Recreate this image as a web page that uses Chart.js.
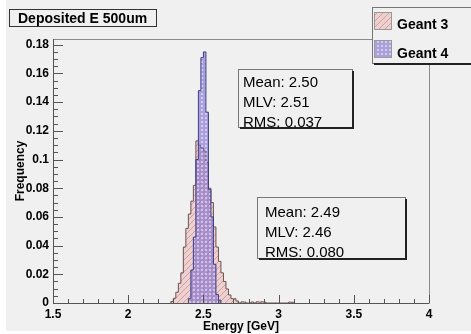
<!DOCTYPE html>
<html>
<head>
<meta charset="utf-8">
<script src="https://cdn.jsdelivr.net/npm/chart.js@4.4.0/dist/chart.umd.min.js"></script>
<style>
  html, body { margin: 0; padding: 0; background: #fff; }
</style>
</head>
<body>
<canvas id="myChart" width="471" height="334"></canvas>
<script>
// 150 bins between 1.5 and 4 GeV, only the filled range of each sample is listed
const eMin = 1.5, eMax = 4, nBins = 150;

// Geant 3 frequencies, starting at bin 47
const geant3First = 47;
const geant3 = [
  0.001, 0.0033, 0.0075, 0.0137, 0.021, 0.039, 0.052, 0.062, 0.071, 0.082,
  0.113, 0.110, 0.108, 0.106, 0.098, 0.080, 0.070, 0.053, 0.039, 0.029,
  0.021, 0.015, 0.0098, 0.0056, 0.003, 0.003, 0.0014, 0, 0.0008, 0.0006,
  0, 0, 0.0007, 0, 0.0008, 0.0006, 0.0008, 0.0005, 0, 0,
  0, 0, 0, 0, 0, 0, 0, 0.0006, 0.0005
];

// Geant 4 frequencies, starting at bin 54
const geant4First = 54;
const geant4 = [
  0.003, 0.023, 0.046, 0.100, 0.148, 0.171, 0.175, 0.133, 0.079, 0.060,
  0.027, 0.006, 0.002
];

const xTicks = [1.5, 2, 2.5, 3, 3.5, 4];
const yTicks = [0, 0.02, 0.04, 0.06, 0.08, 0.1, 0.12, 0.14, 0.16, 0.18];

const stats3 = ['Mean: 2.49', 'MLV: 2.46', 'RMS: 0.080'];
const stats4 = ['Mean: 2.50', 'MLV: 2.51', 'RMS: 0.037'];

const FONT = '"Liberation Sans", Arial, sans-serif';
const BG = '#f0f0f0';

const binWidth = (eMax - eMin) / nBins;

// histogram outline as stepped points: each bin holds its value until the next edge
function toSteps(values, first) {
  const pts = [{ x: eMin + first * binWidth, y: 0 }];
  values.forEach((v, i) => pts.push({ x: eMin + (first + i) * binWidth, y: v }));
  pts.push({ x: eMin + (first + values.length) * binWidth, y: 0 });
  return pts;
}

function makeTile(w, h, draw) {
  const c = document.createElement('canvas');
  c.width = w; c.height = h;
  draw(c.getContext('2d'));
  return document.createElement('canvas').getContext('2d').createPattern(c, 'repeat');
}

const pinkFill = makeTile(6, 6, g => {
  g.fillStyle = 'rgb(237,208,208)';
  g.fillRect(0, 0, 6, 6);
  g.strokeStyle = 'rgb(210,158,158)';
  g.lineWidth = 1;
  g.beginPath();
  g.moveTo(-1, 7); g.lineTo(7, -1);
  g.moveTo(-4, 4); g.lineTo(4, -4);
  g.moveTo(2, 10); g.lineTo(10, 2);
  g.stroke();
});

const blueFill = makeTile(4, 4, g => {
  g.fillStyle = 'rgba(118,98,205,0.56)';
  g.fillRect(0, 0, 4, 4);
  g.fillStyle = 'rgba(240,240,252,0.55)';
  g.fillRect(1, 1, 2, 2);
});

const rootFrame = {
  id: 'rootFrame',
  beforeDraw(chart) {
    const c = chart.ctx;
    c.save();
    c.fillStyle = '#fff';
    c.fillRect(0, 0, chart.width, chart.height);
    c.fillStyle = BG;
    c.fillRect(6, 0, chart.width - 6, 331);
    c.restore();
  },
  afterDatasetsDraw(chart) {
    const c = chart.ctx;
    const { left, right, top, bottom } = chart.chartArea;
    const xs = chart.scales.x, ys = chart.scales.y;
    c.save();
    c.lineWidth = 1;
    // frame
    c.strokeStyle = '#8a8a8a';
    c.beginPath();
    c.moveTo(left, top + 0.5); c.lineTo(right + 0.5, top + 0.5);
    c.moveTo(right + 0.5, top); c.lineTo(right + 0.5, bottom);
    c.stroke();
    c.strokeStyle = '#555';
    c.beginPath();
    c.moveTo(left + 0.5, top); c.lineTo(left + 0.5, bottom + 0.5);
    c.lineTo(right + 0.5, bottom + 0.5);
    // x ticks, minor every 0.1
    for (let i = 0; i <= 25; i++) {
      const px = Math.round(xs.getPixelForValue(eMin + i * 0.1)) + 0.5;
      const len = i % 5 === 0 ? 8 : 4;
      c.moveTo(px, bottom); c.lineTo(px, bottom - len);
    }
    // y ticks, minor every 0.005
    for (let i = 0; i <= 36; i++) {
      const py = Math.round(ys.getPixelForValue(i * 0.005)) + 0.5;
      const len = i % 4 === 0 ? 10 : 5;
      c.moveTo(left, py); c.lineTo(left + len, py);
    }
    c.stroke();
    c.restore();
  },
  afterDraw(chart) {
    const c = chart.ctx;
    const { left, right, top, bottom } = chart.chartArea;
    c.save();

    const box = (x, y, w, h, shadow) => {
      c.fillStyle = BG;
      c.fillRect(x, y, w, h);
      c.strokeStyle = '#777';
      c.lineWidth = 1;
      c.strokeRect(x + 0.5, y + 0.5, w, h);
      if (shadow) {
        c.fillStyle = '#222';
        c.fillRect(x + 2, y + h, w, 2);
        c.fillRect(x + w, y + 2, 2, h);
      }
    };

    // title
    box(9, 9, 147, 17, false);
    c.strokeStyle = '#333';
    c.strokeRect(9.5, 9.5, 147, 17);
    c.fillStyle = '#000';
    c.font = 'bold 14px ' + FONT;
    c.textBaseline = 'alphabetic';
    c.textAlign = 'left';
    c.fillText('Deposited E 500um', 18, 23);

    // legend
    box(372, 7, 100, 56, true);
    const swatch = (y, fill) => {
      c.fillStyle = fill;
      c.fillRect(374, y, 18, 18);
      c.strokeStyle = '#999';
      c.strokeRect(374.5, y + 0.5, 17, 17);
    };
    swatch(12, pinkFill);
    swatch(40, blueFill);
    c.fillStyle = '#000';
    c.font = 'bold 14px ' + FONT;
    c.fillText('Geant 3', 397, 29);
    c.fillText('Geant 4', 397, 58);

    // statistics boxes
    c.font = '15px ' + FONT;
    box(238, 69, 114, 58, true);
    c.fillStyle = '#000';
    stats4.forEach((t, i) => c.fillText(t, 243, 87 + i * 20));
    box(257, 197, 148, 61, true);
    c.fillStyle = '#000';
    stats3.forEach((t, i) => c.fillText(t, 265, 217 + i * 20));

    // axis titles
    c.font = 'bold 12px ' + FONT;
    c.textAlign = 'center';
    c.fillText('Energy [GeV]', (left + right) / 2, 330);
    c.translate(24, (top + bottom) / 2);
    c.rotate(-Math.PI / 2);
    c.fillText('Frequency', 0, 0);
    c.restore();
  }
};

const tickFont = { family: FONT, size: 12, weight: 'bold' };

new Chart(document.getElementById('myChart'), {
  type: 'line',
  data: {
    datasets: [
      {
        label: 'Geant 4', data: toSteps(geant4, geant4First), stepped: true, fill: 'origin',
        backgroundColor: blueFill, borderColor: '#3c3c88', borderWidth: 1,
        pointRadius: 0, order: 0
      },
      {
        label: 'Geant 3', data: toSteps(geant3, geant3First), stepped: true, fill: 'origin',
        backgroundColor: pinkFill, borderColor: '#6e5252', borderWidth: 1,
        pointRadius: 0, order: 1
      }
    ]
  },
  options: {
    responsive: false,
    animation: false,
    devicePixelRatio: 1,
    layout: { padding: { left: 0, top: 39, right: 42, bottom: 0 } },
    plugins: { legend: { display: false }, tooltip: { enabled: false } },
    scales: {
      x: {
        type: 'linear', min: eMin, max: eMax,
        afterFit: s => { s.height = 31; },
        afterBuildTicks: s => { s.ticks = xTicks.map(v => ({ value: v })); },
        grid: { display: false, drawTicks: false }, border: { display: false },
        ticks: { font: tickFont, color: '#000', padding: 4, maxRotation: 0, callback: v => String(v) }
      },
      y: {
        type: 'linear', min: 0, max: 0.184,
        afterFit: s => { s.width = 53; },
        afterBuildTicks: s => { s.ticks = yTicks.map(v => ({ value: v })); },
        grid: { display: false, drawTicks: false }, border: { display: false },
        ticks: { font: tickFont, color: '#000', padding: 4, callback: v => String(+v.toFixed(2)) }
      }
    }
  },
  plugins: [rootFrame]
});
</script>
</body>
</html>
